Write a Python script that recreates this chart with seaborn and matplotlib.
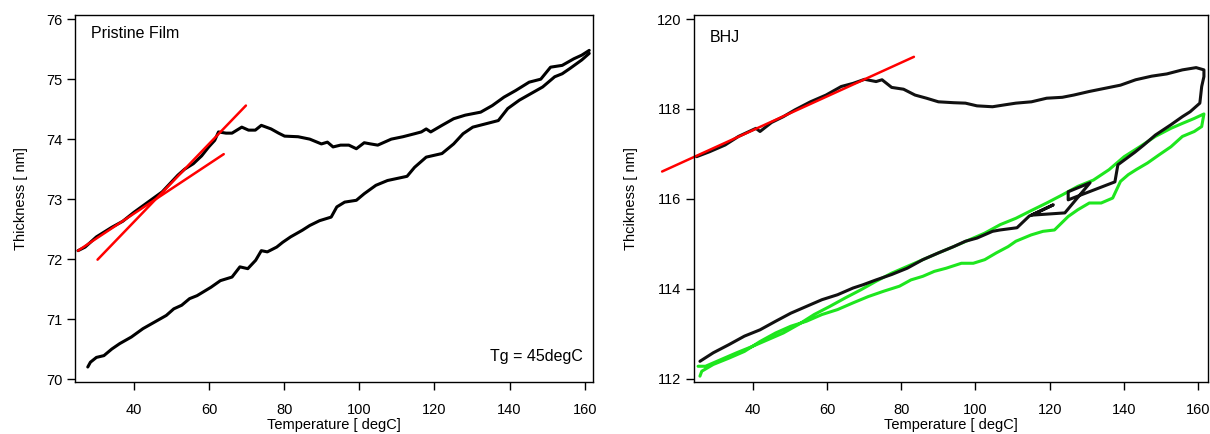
import numpy as np
import pandas as pd
import matplotlib
matplotlib.use("Agg")
import matplotlib.pyplot as plt
import seaborn as sns

# ---------------- Pristine film data ----------------
pf_heat_T = [25.1, 27.0, 30.0, 34.1, 37.0, 40.0, 44.4, 47.5, 51.7, 53.5, 55.8, 58.0, 59.9, 61.5, 62.5,
             64.5, 66.1, 68.7, 70.5, 72.3, 73.9, 76.5, 78.5, 80.1, 83.7, 86.8, 89.9, 91.5, 93.0, 95.0,
             97.2, 99.2, 101.3, 103.0, 104.9, 108.5, 111.6, 114.7, 116.5, 117.8, 119.0, 122.0, 125.1,
             128.2, 132.3, 135.4, 138.5, 141.6, 145.2, 148.3, 150.9, 154.0, 157.1, 159.2, 161.2]
pf_heat_H = [72.14, 72.20, 72.37, 72.53, 72.63, 72.78, 72.98, 73.12, 73.40, 73.50, 73.59, 73.72, 73.87,
             73.98, 74.12, 74.10, 74.10, 74.20, 74.15, 74.15, 74.23, 74.17, 74.10, 74.05, 74.04, 74.00,
             73.92, 73.95, 73.87, 73.90, 73.90, 73.84, 73.94, 73.92, 73.90, 74.00, 74.04, 74.09, 74.12,
             74.17, 74.12, 74.23, 74.34, 74.40, 74.45, 74.56, 74.70, 74.81, 74.95, 75.00, 75.20, 75.23,
             75.34, 75.40, 75.48]
pf_cool_T = [161.2, 159.2, 156.1, 154.0, 152.0, 148.8, 145.7, 142.6, 139.5, 137.0, 133.3, 130.2, 127.6,
             125.1, 122.0, 117.8, 114.7, 112.7, 107.5, 104.4, 101.3, 99.2, 96.1, 94.0, 92.5, 89.4, 86.8,
             84.8, 81.7, 79.6, 78.0, 75.5, 73.9, 72.4, 70.3, 68.2, 66.1, 63.0, 60.5, 56.8, 54.8, 52.7,
             50.6, 48.6, 45.5, 42.4, 39.3, 36.2, 34.1, 32.0, 30.0, 28.4, 27.7]
pf_cool_H = [75.43, 75.32, 75.18, 75.09, 75.04, 74.87, 74.76, 74.65, 74.51, 74.31, 74.25, 74.20, 74.09,
             73.92, 73.76, 73.70, 73.53, 73.38, 73.31, 73.23, 73.09, 72.98, 72.95, 72.87, 72.70, 72.64,
             72.56, 72.48, 72.37, 72.28, 72.20, 72.12, 72.14, 71.98, 71.84, 71.87, 71.70, 71.64, 71.53,
             71.39, 71.34, 71.23, 71.17, 71.06, 70.95, 70.84, 70.70, 70.59, 70.50, 70.39, 70.36, 70.28,
             70.20]
pf_fit1_T = [25.1, 63.9]
pf_fit1_H = [72.14, 73.75]
pf_fit2_T = [30.3, 69.8]
pf_fit2_H = [71.99, 74.56]

# ---------------- BHJ data ----------------
bhj_black_T = [24.8, 28.3, 32.5, 36.1, 40.8, 41.9, 45.0, 48.2, 51.3, 55.5, 59.7, 63.8, 67.0, 70.1, 73.2,
               74.8, 77.4, 80.6, 83.7, 86.8, 90.0, 94.1, 97.3, 100.4, 104.6, 107.7, 110.9, 115.1, 119.2,
               123.4, 126.5, 130.7, 134.9, 139.1, 143.2, 147.5, 151.6, 155.8, 159.5, 161.6, 161.6, 161.0,
               160.5, 157.9, 155.8, 152.7, 148.5, 145.4, 143.0, 138.4, 137.6, 125.0, 125.0, 130.9, 124.1,
               115.2, 121.0, 114.5, 111.2, 106.6, 104.6, 100.4, 97.3, 94.1, 90.0, 85.8, 81.6, 77.4, 73.2,
               69.6, 67.0, 62.8, 58.6, 54.4, 50.2, 46.1, 41.9, 37.7, 33.5, 29.3, 25.7]
bhj_black_H = [116.94, 117.05, 117.20, 117.39, 117.57, 117.50, 117.70, 117.83, 117.98, 118.16, 118.31,
               118.50, 118.57, 118.66, 118.61, 118.65, 118.48, 118.44, 118.31, 118.24, 118.16, 118.14,
               118.13, 118.07, 118.05, 118.09, 118.13, 118.16, 118.24, 118.26, 118.31, 118.39, 118.46,
               118.53, 118.65, 118.73, 118.78, 118.87, 118.92, 118.87, 118.72, 118.50, 118.13, 117.94,
               117.83, 117.65, 117.42, 117.20, 117.04, 116.76, 116.38, 115.98, 116.16, 116.36, 115.69,
               115.64, 115.87, 115.62, 115.36, 115.31, 115.28, 115.13, 115.06, 114.94, 114.80, 114.65,
               114.46, 114.32, 114.20, 114.09, 114.02, 113.87, 113.76, 113.61, 113.46, 113.28, 113.09,
               112.95, 112.76, 112.58, 112.39]
bhj_green_T = [25.2, 27.2, 31.4, 35.6, 39.8, 44.0, 48.2, 52.3, 56.5, 60.7, 64.9, 69.1, 73.2, 77.4, 81.6,
               85.8, 90.0, 94.1, 98.3, 102.5, 106.7, 110.9, 115.0, 119.2, 123.4, 127.6, 131.8, 136.0,
               140.1, 144.3, 148.5, 152.7, 155.8, 159.0, 161.6,
               161.0, 159.0, 155.8, 152.7, 149.5, 146.4, 143.3, 141.2, 139.1, 137.0, 133.9, 130.7, 127.6,
               125.0, 121.3, 118.2, 115.0, 110.9, 108.8, 105.6, 102.5, 99.4, 96.2, 92.1, 88.9, 85.8, 82.6,
               79.5, 75.3, 71.1, 67.0, 62.8, 58.6, 54.4, 50.2, 46.1, 41.9, 37.7, 33.5, 29.3, 26.2, 25.7]
bhj_green_H = [112.28, 112.28, 112.43, 112.58, 112.72, 112.87, 113.02, 113.21, 113.43, 113.61, 113.80,
               113.98, 114.17, 114.35, 114.50, 114.65, 114.80, 114.94, 115.09, 115.24, 115.43, 115.57,
               115.74, 115.91, 116.09, 116.28, 116.42, 116.65, 116.94, 117.16, 117.39, 117.57, 117.68,
               117.79, 117.89,
               117.61, 117.50, 117.39, 117.16, 116.98, 116.80, 116.65, 116.54, 116.39, 116.02, 115.91,
               115.91, 115.76, 115.61, 115.31, 115.28, 115.20, 115.06, 114.94, 114.80, 114.65, 114.57,
               114.57, 114.46, 114.39, 114.28, 114.20, 114.06, 113.95, 113.83, 113.69, 113.54, 113.43,
               113.28, 113.17, 113.02, 112.83, 112.61, 112.46, 112.32, 112.17, 112.06]
bhj_fit_T = [15.5, 83.4]
bhj_fit_H = [116.61, 119.16]

x_ticks = [40, 60, 80, 100, 120, 140, 160]
pf_y_ticks = [70, 71, 72, 73, 74, 75, 76]
bhj_y_ticks = [112, 114, 116, 118, 120]

sns.set_style("ticks")
plt.rcParams['font.family'] = ['Liberation Sans', 'DejaVu Sans']
plt.rcParams['axes.edgecolor'] = 'black'
plt.rcParams['axes.linewidth'] = 1.0
plt.rcParams['text.color'] = 'black'
plt.rcParams['axes.labelcolor'] = 'black'
plt.rcParams['xtick.color'] = 'black'
plt.rcParams['ytick.color'] = 'black'

fig = plt.figure(figsize=(12.10, 4.34), dpi=100)
ax1 = fig.add_axes([75 / 1210, 1 - 382 / 434, (593 - 75) / 1210, (382 - 15) / 434])
ax2 = fig.add_axes([694 / 1210, 1 - 382 / 434, (1208 - 694) / 1210, (382 - 15) / 434])


def draw(ax, T, H, color, lw, clip=True):
    df = pd.DataFrame({"T": T, "H": H})
    sns.lineplot(data=df, x="T", y="H", sort=False, estimator=None, color=color,
                 linewidth=lw, ax=ax, clip_on=clip)


draw(ax1, pf_heat_T, pf_heat_H, "black", 2.2)
draw(ax1, pf_cool_T, pf_cool_H, "black", 2.2)
draw(ax1, pf_fit1_T, pf_fit1_H, "#ff0000", 1.8)
draw(ax1, pf_fit2_T, pf_fit2_H, "#ff0000", 1.8)

draw(ax2, bhj_green_T, bhj_green_H, "#1ee61e", 2.2)
draw(ax2, bhj_black_T, bhj_black_H, "#111111", 2.2)
draw(ax2, bhj_fit_T, bhj_fit_H, "#ff0000", 1.8, clip=False)

ax1.set_xlim(24.3, 162.2)
ax1.set_ylim(69.95, 76.07)
ax2.set_xlim(24.1, 162.7)
ax2.set_ylim(111.93, 120.09)

for ax, yt in ((ax1, pf_y_ticks), (ax2, bhj_y_ticks)):
    ax.set_xticks(x_ticks)
    ax.set_yticks(yt)
    ax.tick_params(direction='out', length=6, width=1, labelsize=10.5, colors='black', pad=3)
    ax.tick_params(axis='x', pad=9)
    for s in ax.spines.values():
        s.set_visible(True)
        s.set_color('black')
        s.set_linewidth(1.0)
    ax.set_xlabel("Temperature [ degC]", fontsize=10.5, labelpad=1)

ax1.set_ylabel("Thickness [ nm]", fontsize=10.5, labelpad=13)
ax2.set_ylabel("Thcikness [ nm]", fontsize=10.5, labelpad=14)

ax1.text(0.03, 0.97, "Pristine Film", transform=ax1.transAxes, fontsize=11.5, va='top', ha='left')
ax1.text(0.98, 0.05, "Tg = 45degC", transform=ax1.transAxes, fontsize=11.5, va='bottom', ha='right')
ax2.text(0.03, 0.96, "BHJ", transform=ax2.transAxes, fontsize=11.5, va='top', ha='left')

fig.savefig("out.png", dpi=100)
